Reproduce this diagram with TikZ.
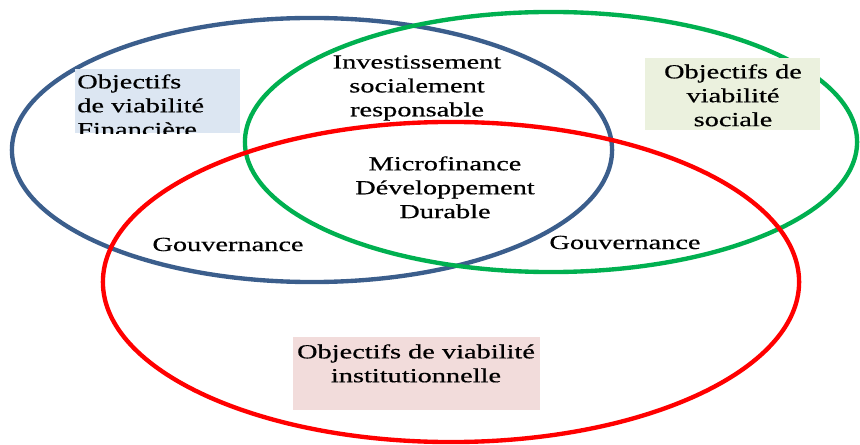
\documentclass[tikz,border=0pt]{standalone}
\usepackage{fontspec}
\setmainfont{Liberation Serif}[FakeStretch=1.42, FakeBold=0.6]
\usepackage{xcolor}
\usepackage{tikz}
\usetikzlibrary{shapes.geometric, positioning}
\definecolor{finblue}{HTML}{3B5E8C}
\definecolor{socgreen}{HTML}{00B050}
\definecolor{instred}{HTML}{FF0000}
\definecolor{finfill}{HTML}{DCE6F2}
\definecolor{socfill}{HTML}{EBF1DE}
\definecolor{instfill}{HTML}{F2DCDB}
\tikzset{
  ring/.style={ellipse, draw, line width=3.1pt, inner sep=0pt},
  goalbox/.style={rectangle, inner sep=0pt},
  vlabel/.style={align=center, inner sep=0pt, font=\fontsize{14.2}{17}\selectfont},
}

\begin{document}
\begin{tikzpicture}[x=0.025cm, y=-0.025cm]
  \useasboundingbox (0,0) rectangle (860,445);
  % the three pillars
  \node[ring, draw=finblue, minimum width=15cm, minimum height=6.6cm] (fin) at (312,150) {};
  \node[ring, draw=socgreen, minimum width=15.3cm, minimum height=6.5cm] (soc) at (551,142) {};
  \node[ring, draw=instred, minimum width=17.4cm, minimum height=8cm] (inst) at (451,282) {};
  % goal boxes
  \node[goalbox, fill=finfill, minimum width=4.125cm, minimum height=1.6cm] (finbox) at (157.5,101) {};
  \node[goalbox, fill=socfill, minimum width=4.375cm, minimum height=1.8cm] (socbox) at (732.5,94) {};
  \node[goalbox, fill=instfill, minimum width=6.175cm, minimum height=1.825cm] (instbox) at (416.5,373.5) {};
  \begin{scope}
    \clip (finbox.south west) rectangle (finbox.north east);
    \node[vlabel, align=left, anchor=north west] (fintext) at (77,74) {Objectifs\\de viabilité\\Financière};
  \end{scope}
  \node[vlabel, anchor=north] (soctext) at (733,64) {Objectifs de\\viabilité\\sociale};
  \node[vlabel, anchor=north] (insttext) at (416,344) {Objectifs de viabilité\\institutionnelle};
  % overlaps
  \node[vlabel, anchor=north] (isr) at (417,55) {Investissement\\socialement\\responsable};
  \node[vlabel, anchor=north] (core) at (445,156) {Microfinance\\Développement\\Durable};
  \node[vlabel, anchor=base] (govleft) at (228,251) {Gouvernance};
  \node[vlabel, anchor=base] (govright) at (625,249) {Gouvernance};
\end{tikzpicture}
\end{document}
